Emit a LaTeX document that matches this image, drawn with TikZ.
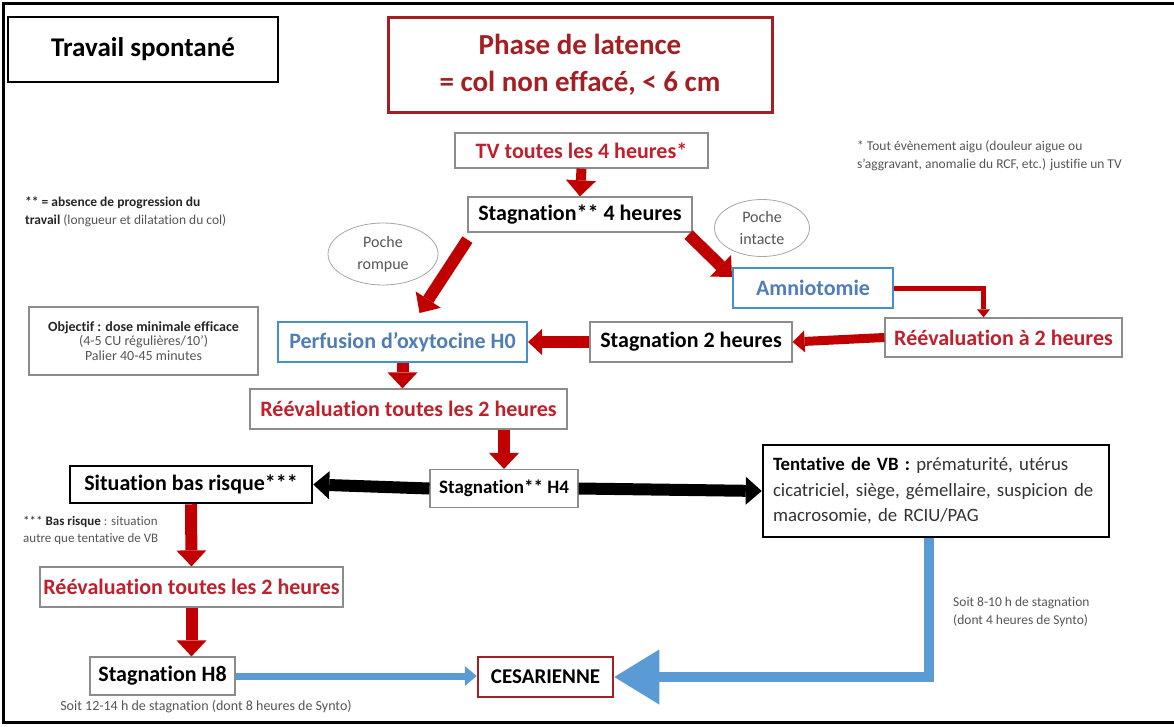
\documentclass[tikz,border=0pt]{standalone}
\usepackage{fontspec}
\setmainfont[Ligatures=NoCommon]{Carlito}
\usepackage{tikz}
\usetikzlibrary{shapes,arrows.meta,positioning,calc}
\definecolor{darkred}{RGB}{163,31,36}
\definecolor{txtred}{RGB}{192,32,44}
\definecolor{arrred}{RGB}{192,0,0}
\definecolor{boxblue}{RGB}{70,145,200}
\definecolor{txtblue}{RGB}{79,125,180}
\definecolor{arrblue}{RGB}{91,155,213}
\definecolor{boxgray}{RGB}{140,140,140}
\definecolor{notegray}{RGB}{85,85,85}
\tikzset{>=latex}
\tikzset{
  box/.style={draw=boxgray, line width=1.2pt, inner sep=0pt, font=\fontsize{22}{26}\selectfont\bfseries},
  redbox/.style={box, text=txtred},
  bluebox/.style={box, draw=boxblue, line width=2pt, text=txtblue},
  blackbox/.style={box, draw=black, line width=2.5pt},
  poche/.style={ellipse, draw=gray!70, line width=0.8pt, text=notegray, inner sep=0pt, align=center, font=\fontsize{16}{22}\selectfont},
  note/.style={inner sep=0pt, align=left, text=notegray, font=\fontsize{13.5}{18}\selectfont},
  redarrow/.style={draw=arrred, line width=12pt, -{Triangle[width=30pt,length=16pt,line width=0pt]}},
  redflat/.style={draw=arrred, line width=9pt, -{Triangle[width=22pt,length=12pt,line width=0pt]}},
  blackarrow/.style={draw=black, line width=12pt, -{Triangle[width=28pt,length=16pt,line width=0pt]}},
  elbow/.style={draw=arrred, line width=5pt, -{Triangle[width=13pt,length=8pt,line width=0pt]}},
  bluearrow/.style={draw=arrblue, line width=7pt, -{Triangle[width=20pt,length=12pt,line width=0pt]}},
  bigblue/.style={draw=arrblue, line width=10pt, -{Triangle[width=55pt,length=45pt,line width=0pt]}}
}
\begin{document}
\begin{tikzpicture}[x=1pt,y=-1pt]
  \useasboundingbox (0,0) rectangle (1174,726);
  \draw [line width=3pt] (1174,3) -- (3,3) -- (3,722) -- (1174,722);

  \node [blackbox, minimum width=270pt, minimum height=65pt, font=\fontsize{27}{30}\selectfont\bfseries] (titre) at (143,49.5) {Travail spontané};
  \node [draw=darkred, line width=3pt, text=darkred, inner sep=0pt, minimum width=384pt, minimum height=95pt, align=center, font=\fontsize{29}{37}\selectfont\bfseries] (latence) at (580,64.5) {Phase de latence\\= col non effacé, < 6 cm};
  \node [redbox, minimum width=253pt, minimum height=35pt] (tv) at (581.5,150.5) {TV toutes les 4 heures*};
  \node [box, minimum width=224pt, minimum height=35pt] (stagA) at (580,214.5) {Stagnation** 4 heures};
  \node [poche, minimum width=110pt, minimum height=62pt] (rompue) at (383,254) {Poche\\rompue};
  \node [poche, minimum width=95pt, minimum height=57pt] (intacte) at (762,228) {Poche\\intacte};
  \node [bluebox, minimum width=160pt, minimum height=40pt] (amnio) at (813,288) {Amniotomie};
  \node [redbox, minimum width=237pt, minimum height=39pt] (reevA) at (1003.5,337.5) {Réévaluation à 2 heures};
  \node [box, minimum width=202pt, minimum height=40pt] (stagB) at (691,342) {Stagnation 2 heures};
  \node [bluebox, minimum width=249pt, minimum height=40pt] (perf) at (402.5,342) {Perfusion d’oxytocine H0};
  \node [draw=boxgray, line width=1.2pt, inner sep=0pt, minimum width=229pt, minimum height=68pt, align=center, text=notegray, font=\fontsize{14}{14.5}\selectfont] (objectif) at (143.5,341) {{\color{black!85}\bfseries Objectif : dose minimale efficace}\\(4-5 CU régulières/10’)\\Palier 40-45 minutes};
  \node [redbox, minimum width=317pt, minimum height=40pt] (reevB) at (408.5,409) {Réévaluation toutes les 2 heures};
  \node [box, minimum width=148pt, minimum height=38pt, font=\fontsize{19}{22}\selectfont\bfseries] (stagC) at (504,488.5) {Stagnation** H4};
  \node [blackbox, minimum width=242pt, minimum height=37pt] (bas) at (191,484.5) {Situation bas risque***};
  \node [blackbox, minimum width=346pt, minimum height=92pt, text width=326pt, align=left, text=black!80, font=\fontsize{18.8}{25.5}\selectfont] (tent) at (936,491) {{\color{black}\bfseries Tentative de VB :} prématurité, utérus\\cicatriciel, siège, gémellaire, suspicion de\\macrosomie, de RCIU/PAG};
  \node [redbox, minimum width=303pt, minimum height=40pt] (reevC) at (191.5,587) {Réévaluation toutes les 2 heures};
  \node [box, minimum width=145pt, minimum height=38pt] (stagD) at (162.5,676) {Stagnation H8};
  \node [draw=darkred, line width=2.5pt, inner sep=0pt, minimum width=135pt, minimum height=40pt, font=\fontsize{21}{24}\selectfont\bfseries] (ces) at (545.5,677) {CESARIENNE};

  % notes
  \node [note, anchor=west] (noteTV) at (857,156) {* Tout évènement aigu (douleur aigue ou\\s’aggravant, anomalie du RCF, etc.) justifie un TV};
  \node [note, anchor=west] (noteStag) at (25,212) {{\color{black!85}\bfseries ** = absence de progression du}\\{\color{black!85}\bfseries travail} (longueur et dilatation du col)};
  \node [note, anchor=west, font=\fontsize{13}{17}\selectfont] (noteBas) at (23,530) {{\color{black!85}*** \bfseries Bas risque} : situation\\autre que tentative de VB};
  \node [note, align=center, font=\fontsize{14}{18}\selectfont] (noteH8) at (206,707) {Soit 12-14 h de stagnation (dont 8 heures de Synto)};
  \node [note, anchor=west] (noteVB) at (953,612) {Soit 8-10 h de stagnation\\(dont 4 heures de Synto)};

  % arrows
  \draw [redarrow, line width=10pt] (tv.south) -- (stagA.north);
  \draw [redarrow] ($(stagA.south west)+(0,7)$) -- ($(perf.north)+(17,-8)$);
  \draw [redarrow] ($(stagA.south east)+(-4,2)$) -- ($(amnio.north west)+(0,10)$);
  \draw [elbow] (amnio.east) -| ($(reevA.north)+(-20,0)$);
  \draw [redflat] (reevA.west) -- (stagB.east);
  \draw [redflat, line width=12pt, -{Triangle[width=26pt,length=14pt,line width=0pt]}] (stagB.west) -- (perf.east);
  \draw [redarrow] (perf.south) -- (perf.south |- reevB.north);
  \draw [redarrow] (stagC.north |- reevB.south) -- (stagC.north);
  \draw [blackarrow] (stagC.west) -- (bas.east);
  \draw [blackarrow] (stagC.east) -- (tent.west);
  \draw [redarrow] (bas.south) -- (reevC.north);
  \draw [redarrow] (reevC.south) -- (reevC.south |- stagD.north);
  \draw [bluearrow] (stagD.east) -- (stagD.east -| ces.west);
  \draw [bigblue] ($(tent.south)+(-7,0)$) |- (ces.east);
\end{tikzpicture}
\end{document}
